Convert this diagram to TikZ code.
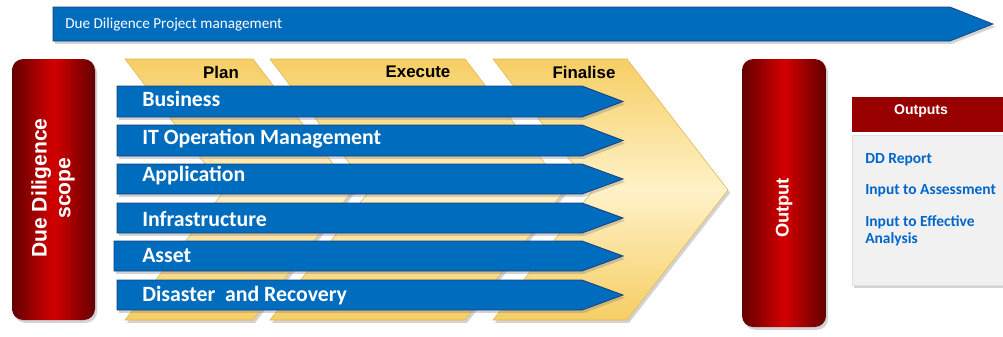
\documentclass[tikz,border=0pt]{standalone}
\usepackage{fontspec}
\setmainfont{Liberation Sans}
\newfontfamily\calfont{Carlito}
\usepackage{tikz}
\usetikzlibrary{shadows,positioning}
\usepackage{xcolor}
\definecolor{ddblue}{RGB}{0,108,189}
\definecolor{ddbluedark}{RGB}{25,65,125}
\definecolor{ddred}{RGB}{212,0,0}
\definecolor{ddreddark}{RGB}{100,0,0}
\definecolor{ddgold}{RGB}{246,206,100}
\definecolor{ddcream}{RGB}{255,242,200}
\definecolor{ddgoldline}{RGB}{226,182,82}
\definecolor{ddheader}{RGB}{152,0,0}
\definecolor{ddpanel}{RGB}{241,241,241}
\definecolor{ddtext}{RGB}{0,102,204}
\tikzstyle{shad} = [drop shadow={opacity=0.35,shadow xshift=1.5pt,shadow yshift=-2pt}]

\begin{document}
\begin{tikzpicture}[
    x=0.025cm, y=0.025cm,
    bar/.style={fill=ddblue, draw=ddbluedark, line width=0.6pt, shad},
    chev/.style={top color=ddgold, bottom color=ddgold, middle color=ddcream, draw=ddgoldline, line width=0.4pt, shad},
    pillar/.style={left color=ddreddark, right color=ddreddark, middle color=ddred, rounded corners=8pt, shad},
    bartext/.style={font=\calfont\bfseries\fontsize{15.5}{17}\selectfont, text=white, anchor=west, inner sep=0pt},
    phase/.style={font=\bfseries\fontsize{12}{14}\selectfont, text=black, inner sep=0pt},
    pillartext/.style={font=\bfseries\fontsize{15}{17}\selectfont, text=white, rotate=90, align=center},
    outtext/.style={font=\calfont\bfseries\fontsize{11}{12}\selectfont, text=ddtext, anchor=west, align=left, inner sep=0pt}
]
\useasboundingbox (0,0) rectangle (1003,-336);

% Project management arrow on top
\path[fill=ddblue, draw=ddbluedark, line width=0.5pt, shad] (53,-7) -- (950,-7) -- (993,-24) -- (950,-41) -- (53,-41) -- cycle;
\node[font=\calfont\fontsize{10.8}{12}\selectfont, text=white, anchor=west, inner sep=0pt] (pm) at (65,-25) {Due Diligence Project management};

% Red pillars
\path[pillar] (12,-59) rectangle (95,-320);
\node[pillartext] (scope) at (53,-188) {Due Diligence\\scope};
\path[pillar] (742,-59) rectangle (826,-327);
\node[pillartext, font=\bfseries\fontsize{13}{15}\selectfont] (output) at (784,-208) {Output};

% Phase chevrons
\path[chev] (125,-59) -- (253,-59) -- (353,-190) -- (253,-320) -- (125,-320) -- (225,-190) -- cycle;
\path[chev] (270,-59) -- (465,-59) -- (565,-190) -- (465,-320) -- (270,-320) -- (370,-190) -- cycle;
\path[chev] (493,-59) -- (627,-59) -- (728,-190) -- (627,-320) -- (493,-320) -- (593,-190) -- cycle;
\node[phase] (plan) at (221,-72) {Plan};
\node[phase] (execute) at (418,-72) {Execute};
\node[phase] (finalise) at (584,-72) {Finalise};

% Scope bars
\path[bar] (117,-86) -- (582,-86) -- (623,-101.5) -- (582,-117) -- (117,-117) -- cycle;
\node[bartext] (business) at (142,-99) {Business};

\path[bar] (117,-125) -- (582,-125) -- (623,-140.5) -- (582,-156) -- (117,-156) -- cycle;
\node[bartext] (itom) at (142,-139) {IT Operation Management};

\path[bar] (117,-164) -- (582,-164) -- (623,-179) -- (582,-194) -- (117,-194) -- cycle;
\node[bartext] (application) at (142,-176) {Application};

\path[bar] (117,-203) -- (582,-203) -- (623,-218) -- (582,-233) -- (117,-233) -- cycle;
\node[bartext] (infra) at (142,-219) {Infrastructure};

\path[bar] (114,-241) -- (582,-241) -- (623,-256) -- (582,-271) -- (114,-271) -- cycle;
\node[bartext] (asset) at (142,-256) {Asset};

\path[bar] (117,-280) -- (582,-280) -- (623,-295) -- (582,-310) -- (117,-310) -- cycle;
\node[bartext] (disaster) at (142,-296) {Disaster\ \ and Recovery};

% Outputs panel
\path[fill=ddpanel, draw=gray!25, shad] (852,-135) rectangle (1010,-285);
\path[fill=ddheader] (852,-97) rectangle (1010,-132);
\node[font=\bfseries\fontsize{10}{12}\selectfont, text=white] (outhead) at (921,-111) {Outputs};
\node[outtext] (report) at (865,-160) {DD Report};
\node[outtext] (assess) at (865,-191) {Input to Assessment};
\node[outtext, anchor=north west] (effective) at (865,-215) {Input to Effective\\Analysis};
\end{tikzpicture}
\end{document}
